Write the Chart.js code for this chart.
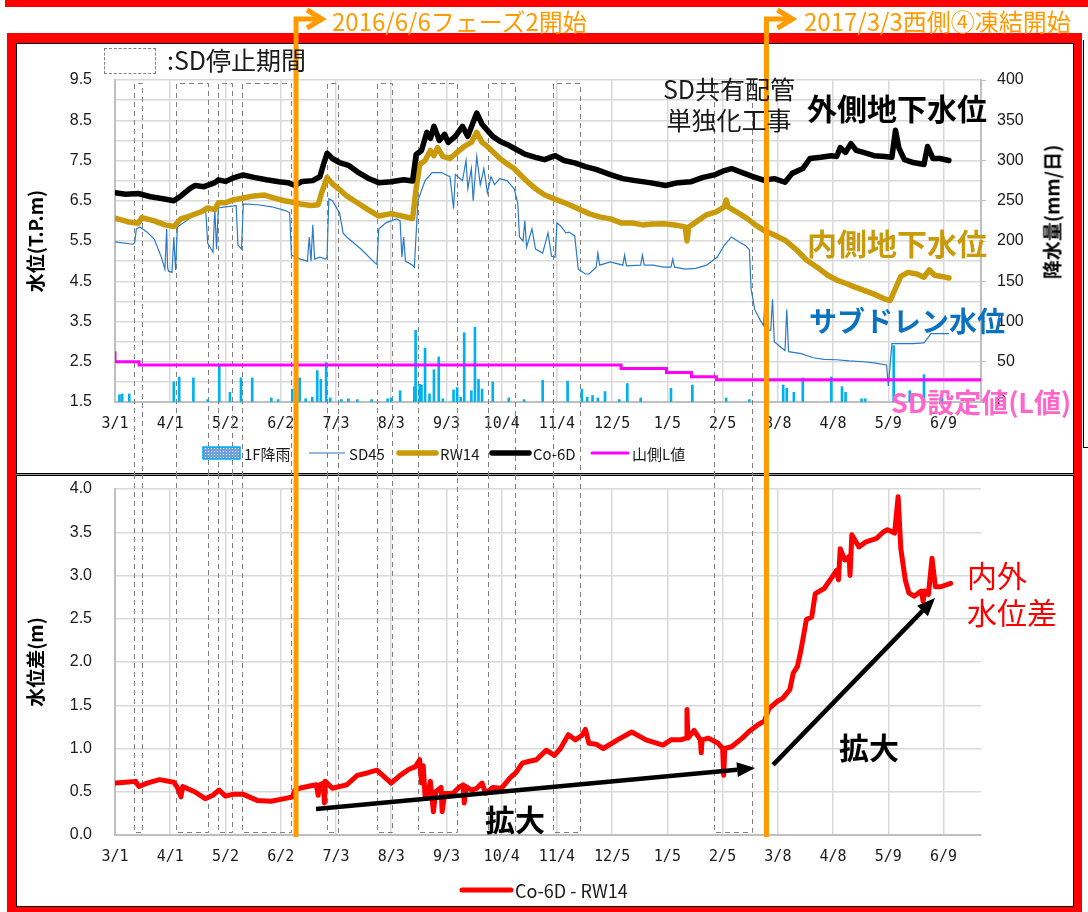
<!DOCTYPE html>
<html lang="ja">
<head>
<meta charset="UTF-8">
<title>水位・水位差</title>
<script src="https://cdn.jsdelivr.net/npm/chart.js"></script>
<style>
  body { margin: 0; width: 1088px; height: 912px; position: relative; overflow: hidden; background: #fff;
         font-family: "Noto Sans CJK JP", sans-serif; }
  .abs { position: absolute; white-space: nowrap; line-height: 1; }
  #topBar { left: 5px; top: 0; width: 1083px; height: 7px; background: #ff0000; }
  #frame { left: 7px; top: 33px; width: 1075px; height: 883px; box-sizing: border-box;
           border: 9px solid #ff0000; border-top-width: 10px; border-right-width: 8px; }
  #panelTop { left: 16px; top: 43px; width: 1058px; height: 431px; box-sizing: border-box; border: 1px solid #000; border-bottom: none; }
  #panelSep { left: 16px; top: 473px; width: 1058px; height: 1px; background: #999; border-top: 1px solid #000; border-bottom: 1px solid #000; }
  #panelBot { left: 16px; top: 476px; width: 1058px; height: 431px; box-sizing: border-box; border: 1px solid #000; border-top: none; }
  #sideFrame { left: 1083px; top: 40px; width: 10px; height: 407px; border-left: 1px solid #000; border-bottom: 1px solid #000; }
  .wrap { position: absolute; left: 0; top: 0; width: 1088px; height: 912px; }
  #topWrap { z-index: 1; }
  #botWrap { z-index: 2; }
  .note { z-index: 3; }
</style>
</head>
<body>
<div id="topBar" class="abs"></div>
<div id="frame" class="abs"></div>
<div id="panelTop" class="abs"></div>
<div id="panelSep" class="abs"></div>
<div id="panelBot" class="abs"></div>
<div id="sideFrame" class="abs"></div>

<div id="topWrap" class="wrap"><canvas id="topChart"></canvas></div>
<div id="botWrap" class="wrap"><canvas id="botChart"></canvas></div>

<!-- 注記 -->
<div class="abs note" style="left:332px; top:9px; font-size:24px; color:#ff9a00;">2016/6/6フェーズ2開始</div>
<div class="abs note" style="left:804px; top:9px; font-size:24px; color:#ff9a00;">2017/3/3西側④凍結開始</div>
<div class="abs note" style="left:104px; top:48px; width:50px; height:24px; border:1px dashed #808080;"></div>
<div class="abs note" style="left:167px; top:47px; font-size:25px; color:#1a1a1a;">:SD停止期間</div>
<div class="abs note" style="left:649px; top:73px; width:160px; font-size:25px; line-height:31px; text-align:center; color:#1a1a1a; white-space:normal;">SD共有配管<br>単独化工事</div>
<div class="abs note" style="left:807px; top:92px; font-size:30px; font-weight:bold; color:#000;">外側地下水位</div>
<div class="abs note" style="left:807px; top:227px; font-size:30px; font-weight:bold; color:#c99a0a;">内側地下水位</div>
<div class="abs note" style="left:809px; top:306px; font-size:28px; font-weight:bold; color:#0b72c0;">サブドレン水位</div>
<div class="abs note" style="left:891px; top:388px; font-size:27px; font-weight:bold; color:#ff66cc;">SD設定値(L値)</div>
<div class="abs note" style="left:1051px; top:212px; font-size:19px; font-weight:bold; color:#000; transform:translate(-50%,-50%) rotate(-90deg);">降水量(mm/日)</div>
<div class="abs note" style="left:485px; top:803px; font-size:30px; font-weight:bold; color:#000;">拡大</div>
<div class="abs note" style="left:839px; top:731px; font-size:30px; font-weight:bold; color:#000;">拡大</div>
<div class="abs note" style="left:967px; top:556px; font-size:30px; line-height:37px; color:#ff0000; white-space:normal;">内外<br>水位差</div>

<script>
    // 2016/3/1 からの経過日数で x を表す
    const dayMax = 486;
    const tickStep = 31;

    // 1F降雨 (mm/日)
    const rain = [[2.5,9],[4,10],[8,10],[33,25],[36,31],[44,30],[52,3],[58.5,45],[64.5,12],[70.7,30],[77,30],
        [87.7,5],[91.5,3],[99.5,16],[103.6,30],[107,4],[110.7,6],[113.5,39],[115.5,28],[118.5,49],[120.8,5],
        [127,3],[131,4],[136,3],[144,3],[153,4],[155,5],[160,14],[168,19],[168.7,89],[171,22],[172,21],[174,67],
        [176.5,10],[179,40],[181.7,56],[184,4],[190,15],[192,18],[194,6],[196,86],[200,14],[202,93],[204,28],
        [206,16],[212,25],[221,5],[229.6,3],[240,27],[254,26],[262,16],[265,6],[268,8],[271,5],[275,13],[283,3],
        [287.5,23],[295,5],[312,17],[324,21],[343,5],[356,3],[375,21],[377,17],[381,12],[386,30],[402,31],
        [408,19],[410,12],[419,4],[421,4],[437,70],[446,14],[454,34],[464,5]];

    // SD45 (T.P.m)
    const sd45 = [[0,5.48],[10,5.42],[11,5.45],[12,5.8],[14,5.85],[18,5.72],[22,5.55],[26,5.1],[28,4.8],[29,5.8],
        [29.5,4.85],[30,4.75],[32,4.72],[33,5.6],[34,4.78],[35,5.85],[40,6.0],[45,6.15],[50,6.25],[51,6.2],
        [52,5.45],[55,5.22],[56,6.3],[57,5.3],[58,6.32],[62,6.35],[68,6.38],[69,5.4],[71,5.3],[72,6.42],[80,6.4],
        [88,6.35],[96,6.25],[98,6.2],[99,5.15],[104,5.05],[108,5.0],[109,5.6],[110,5.0],[111,5.9],[112,5.05],
        [115,5.1],[118,5.05],[119,5.1],[120,6.55],[122,6.5],[126,6.2],[128,5.7],[130,5.6],[138,5.3],[146,4.95],
        [147,4.92],[148,5.8],[152,5.95],[158,6.05],[160,6.0],[161,5.1],[162,5.6],[163,5.0],[167,4.9],[168,4.85],
        [170,6.5],[174,7.0],[178,7.2],[183,7.2],[188,7.1],[190,6.3],[191,7.15],[195,7.0],[197,7.5],[198,6.8],
        [200,7.3],[201,6.5],[203,7.6],[205,6.9],[207,7.3],[209,6.7],[211,7.1],[213,6.9],[216,7.05],[220,7.0],
        [224,6.8],[226,6.45],[227,5.6],[229,5.5],[230,6.0],[231,5.35],[234,5.8],[236,5.3],[240,5.2],[243,5.7],
        [245,5.12],[247,5.1],[248,5.95],[250,5.88],[253,5.7],[255,5.72],[258,5.62],[260,4.8],[264,4.68],
        [266,4.68],[270,4.85],[271,5.2],[272,4.9],[278,4.98],[285,4.9],[286,5.15],[287,4.88],[295,4.9],
        [296,5.15],[297,4.9],[302,4.9],[308,4.85],[312,4.85],[313,5.05],[314,4.85],[320,4.8],[326,4.82],
        [332,4.9],[338,5.1],[342,5.4],[346,5.6],[350,5.48],[354,5.38],[356,5.28],[357,4.3],[359,3.8],[362,3.54],
        [364,3.4],[365,4.3],[366,3.3],[368,3.28],[369,4.05],[370,3.0],[374,2.85],[376,2.78],[377,3.8],[378,2.75],
        [385,2.7],[392,2.6],[398,2.56],[405,2.55],[412,2.52],[420,2.5],[426,2.47],[433,2.42],[434,1.9],
        [436,2.95],[440,2.95],[448,2.95],[454,2.97],[458,3.2],[464,3.2],[468,3.2]];

    // RW14 (内側地下水位)
    const rw14 = [[0,6.07],[7,5.98],[13,5.94],[15,6.08],[22,6.0],[28,5.9],[33,5.86],[37,6.05],[42,6.12],[48,6.22],
        [52,6.32],[56,6.28],[58,6.45],[62,6.45],[66,6.52],[72,6.57],[78,6.62],[84,6.64],[90,6.56],[95,6.5],
        [99,6.47],[104,6.42],[110,6.38],[114,6.4],[116,6.7],[119,7.08],[122,6.92],[126,6.78],[130,6.62],
        [136,6.45],[142,6.28],[148,6.12],[155,6.18],[161,6.12],[167,6.06],[169,6.8],[171,7.4],[174,7.5],
        [177,7.75],[179,7.62],[181,7.82],[184,7.6],[188,7.55],[192,7.7],[196,7.85],[200,7.95],[203,8.2],
        [206,7.95],[209,7.85],[212,7.72],[216,7.55],[220,7.42],[224,7.3],[228,7.12],[232,6.95],[236,6.8],
        [241,6.65],[248,6.52],[254,6.42],[260,6.3],[266,6.18],[272,6.1],[278,6.05],[284,5.95],[290,5.95],
        [296,5.9],[302,5.92],[308,5.93],[314,5.9],[320,5.85],[321,5.5],[322,5.85],[327,6.0],[332,6.15],
        [337,6.22],[342,6.35],[343,6.52],[344,6.35],[349,6.22],[355,6.05],[360,5.88],[364,5.77],[370,5.65],
        [376,5.52],[382,5.3],[388,5.03],[394,4.85],[400,4.65],[405,4.53],[410,4.45],[415,4.36],[420,4.28],
        [426,4.18],[432,4.06],[435,4.02],[438,4.32],[441,4.62],[445,4.72],[450,4.68],[454,4.6],[457,4.78],
        [460,4.65],[464,4.62],[468,4.58]];

    // Co-6D (外側地下水位)
    const co6d = [[0,6.70],[6,6.66],[13,6.68],[20,6.60],[27,6.55],[33,6.50],[37,6.62],[42,6.80],[45,6.88],
        [50,6.85],[56,6.95],[58,7.02],[62,6.98],[66,7.06],[72,7.14],[78,7.08],[85,7.02],[92,6.97],[97,6.95],
        [101,6.88],[105,6.98],[111,7.0],[115,7.1],[117,7.4],[119,7.68],[122,7.55],[126,7.45],[131,7.38],
        [136,7.22],[142,7.06],[148,6.95],[155,6.97],[162,7.02],[167,6.99],[169,7.65],[172,7.75],[175,8.2],
        [177,8.05],[179,8.35],[182,8.0],[185,8.15],[187,7.95],[191,8.1],[195,8.35],[198,8.1],[201,8.45],
        [203,8.68],[206,8.4],[209,8.25],[212,8.1],[216,7.98],[220,7.9],[225,7.78],[230,7.66],[236,7.58],
        [241,7.52],[247,7.62],[252,7.5],[258,7.44],[264,7.35],[270,7.28],[278,7.15],[285,7.05],[292,7.0],
        [300,6.95],[309,6.88],[316,6.95],[323,6.97],[330,7.08],[337,7.15],[342,7.25],[346,7.3],[352,7.2],
        [358,7.1],[364,7.01],[370,7.05],[376,6.96],[380,7.18],[386,7.3],[390,7.55],[396,7.58],[402,7.62],
        [405,7.6],[407,7.82],[410,7.7],[413,7.92],[416,7.75],[420,7.7],[426,7.62],[432,7.6],[436,7.58],
        [438,8.25],[440,7.8],[443,7.52],[448,7.45],[454,7.4],[456,7.85],[459,7.55],[463,7.55],[468,7.5]];

    // 山側L値 (段階的に変更)
    const lValue = [[0,2.76],[13.5,2.5],[284,2.42],[309.5,2.33],[323.5,2.23],[337.5,2.13],[352.5,2.05],[486,2.05]];

    // Co-6D - RW14 (内外水位差)
    const diff = [[0,0.6],[6,0.61],[11.6,0.62],[13.5,0.56],[18,0.6],[25,0.64],[33,0.61],[35,0.55],[37,0.44],
        [38,0.56],[44.7,0.5],[50.6,0.42],[55,0.46],[58.4,0.52],[62,0.45],[66,0.47],[72,0.47],[79.8,0.4],
        [87.6,0.39],[95,0.42],[99.5,0.44],[101,0.52],[103.6,0.54],[110,0.57],[113,0.58],[114,0.46],[115,0.58],
        [117,0.6],[117.5,0.37],[118,0.62],[122,0.54],[130,0.58],[136,0.69],[142,0.72],[147,0.75],[155,0.6],
        [160,0.69],[165,0.76],[168.6,0.79],[171,0.87],[172,0.6],[173,0.8],[174,0.45],[175.5,0.48],[177,0.62],
        [178.7,0.27],[180,0.5],[183,0.55],[183.6,0.27],[185,0.48],[189.6,0.48],[193,0.55],[195.4,0.58],
        [196,0.37],[197,0.56],[200,0.52],[203,0.54],[206,0.6],[208,0.48],[212,0.55],[216.8,0.54],[221.7,0.66],
        [225,0.72],[228.6,0.83],[232,0.85],[236.5,0.87],[242,0.98],[246.6,0.92],[250,1.0],[254.4,1.16],
        [258.3,1.1],[262,1.15],[264,1.22],[266,1.06],[270,1.05],[274,1.0],[282,1.1],[290,1.19],[298,1.1],
        [307.5,1.04],[312,1.1],[317.5,1.1],[320.5,1.12],[321,1.45],[321.5,1.12],[325,1.21],[328.5,1.1],
        [329,0.95],[329.5,1.1],[333,1.12],[338.5,1.06],[341,1.0],[341.6,0.69],[342.2,1.0],[346,1.02],[352,1.12],
        [356,1.2],[360.5,1.27],[364.5,1.32],[367,1.46],[372,1.55],[374.7,1.58],[378.7,1.68],[380.6,1.87],
        [383,1.95],[385,2.14],[388,2.49],[391,2.52],[393,2.79],[398,2.85],[402,2.97],[405,3.06],[406,2.95],
        [407,3.31],[409.5,3.18],[412,3.22],[412.5,3.0],[413.5,3.47],[417.5,3.33],[421.5,3.39],[427.5,3.43],
        [431,3.5],[433.5,3.53],[437.5,3.49],[439.5,3.91],[441,3.31],[443.5,2.95],[445.5,2.8],[448.5,2.76],
        [452.5,2.82],[453.5,2.7],[454.5,2.82],[456.5,2.78],[458.5,3.2],[460.4,2.87],[463.4,2.87],[469,2.91]];

    // SD停止期間 [開始日, 終了日]
    const stopPeriods = [[10.6,15.4],[34,52],[58,65.8],[71.5,99],[119,125],[147,155.6],[170,191.7],
        [209.6,224.2],[246,261],[336,357.4]];

    // フェーズ2開始 / 西側④凍結開始 の縦線位置
    const eventDays = [101.6, 365.6];

    // 拡大の矢印 [x1, y1, x2, y2] (日, m)
    const arrowLines = [[112.8,0.30,359.2,0.775],[369.3,0.81,460.2,2.74]];

    const ORANGE = '#ff9a00';
    const GRID = '#d9d9d9';
    const AXIS = '#bfbfbf';
    const xy = arr => arr.map(p => ({x: p[0], y: p[1]}));

    function dayLabel(v) {
        const d = new Date(2016, 2, 1 + v);
        return (d.getMonth() + 1) + '/' + d.getDate();
    }

    Chart.defaults.font.family = '"Noto Sans CJK JP", sans-serif';
    Chart.defaults.color = '#1a1a1a';

    const xAxis = () => ({
        type: 'linear', min: 0, max: dayMax, offset: false,
        afterFit: s => { s.height = 40; },
        ticks: { stepSize: tickStep, includeBounds: false, autoSkip: false, maxRotation: 0, padding: 13,
                 callback: dayLabel, font: { family: 'DejaVu Sans Mono', size: 15 } },
        grid: { color: GRID, lineWidth: 1.5, drawTicks: false, offset: false },
        border: { color: AXIS, width: 2 }
    });

    // SD停止期間の点線枠
    const stopBoxes = {
        id: 'stopBoxes',
        beforeDatasetsDraw(chart, args, opts) {
            const {ctx, chartArea} = chart;
            const xs = chart.scales.x;
            ctx.save();
            ctx.strokeStyle = '#808080';
            ctx.lineWidth = 1;
            ctx.setLineDash([5, 4]);
            stopPeriods.forEach(([a, b]) => {
                const x1 = Math.round(xs.getPixelForValue(a)) + 0.5;
                const x2 = Math.round(xs.getPixelForValue(b)) + 0.5;
                ctx.beginPath();
                if (opts.part === 'top') {
                    const t = chartArea.top + 3.5;
                    ctx.moveTo(x1, 476); ctx.lineTo(x1, t); ctx.lineTo(x2, t); ctx.lineTo(x2, 476);
                } else {
                    const b2 = chartArea.bottom - 2.5;
                    ctx.moveTo(x1, 474); ctx.lineTo(x1, b2); ctx.lineTo(x2, b2); ctx.lineTo(x2, 474);
                }
                ctx.stroke();
            });
            ctx.restore();
        }
    };

    // 凡例 (横一列)
    const legendRow = {
        id: 'legendRow',
        afterDraw(chart, args, opts) {
            const {ctx} = chart;
            ctx.save();
            ctx.font = opts.fontSize + 'px "Noto Sans CJK JP"';
            ctx.textBaseline = 'middle';
            opts.items.forEach(it => {
                const ds = chart.data.datasets[it.index];
                const y = opts.y;
                if (ds.type === 'bar') {
                    const c = document.createElement('canvas');
                    c.width = 3; c.height = 3;
                    const g = c.getContext('2d');
                    g.fillStyle = '#6f9fdc'; g.fillRect(0, 0, 3, 3);
                    g.fillStyle = '#e4eefa'; g.fillRect(1, 1, 1, 1);
                    ctx.fillStyle = ctx.createPattern(c, 'repeat');
                    ctx.fillRect(it.x, y - 6, it.w, 12);
                    ctx.strokeStyle = ds.backgroundColor;
                    ctx.lineWidth = 1.5;
                    ctx.strokeRect(it.x, y - 6, it.w, 12);
                } else {
                    ctx.strokeStyle = ds.borderColor;
                    ctx.lineWidth = ds.borderWidth;
                    ctx.lineCap = ds.borderWidth > 2 ? 'round' : 'butt';
                    ctx.beginPath();
                    ctx.moveTo(it.x, y); ctx.lineTo(it.x + it.w, y);
                    ctx.stroke();
                }
                ctx.fillStyle = '#1a1a1a';
                ctx.fillText(ds.label, it.x + it.w + 4, y + 1);
            });
            ctx.restore();
        }
    };

    // フェーズ縦線と拡大矢印
    const eventMarks = {
        id: 'eventMarks',
        afterDatasetsDraw(chart) {
            const {ctx} = chart;
            const xs = chart.scales.x, ys = chart.scales.y;
            ctx.save();
            ctx.strokeStyle = '#000';
            ctx.fillStyle = '#000';
            ctx.lineWidth = 4.5;
            arrowLines.forEach(([a, b, c, d]) => {
                const x1 = xs.getPixelForValue(a), y1 = ys.getPixelForValue(b);
                const x2 = xs.getPixelForValue(c), y2 = ys.getPixelForValue(d);
                const ang = Math.atan2(y2 - y1, x2 - x1), head = 18, half = 7.5;
                const bx = x2 - head * Math.cos(ang), by = y2 - head * Math.sin(ang);
                ctx.beginPath(); ctx.moveTo(x1, y1); ctx.lineTo(bx, by); ctx.stroke();
                ctx.beginPath();
                ctx.moveTo(x2, y2);
                ctx.lineTo(bx + half * Math.sin(ang), by - half * Math.cos(ang));
                ctx.lineTo(bx - half * Math.sin(ang), by + half * Math.cos(ang));
                ctx.closePath(); ctx.fill();
            });
            ctx.restore();
        },
        afterDraw(chart) {
            const {ctx, chartArea} = chart;
            const xs = chart.scales.x;
            ctx.save();
            ctx.strokeStyle = ORANGE;
            ctx.lineWidth = 5;
            eventDays.forEach(d => {
                const x = xs.getPixelForValue(d);
                ctx.lineJoin = 'miter';
                ctx.beginPath();
                ctx.moveTo(x, chartArea.bottom + 2);
                ctx.lineTo(x, 19);
                ctx.lineTo(x + 24, 19);
                ctx.stroke();
                ctx.beginPath();
                ctx.moveTo(x + 11, 10); ctx.lineTo(x + 26, 19); ctx.lineTo(x + 11, 28);
                ctx.stroke();
            });
            ctx.restore();
        }
    };

    new Chart(document.getElementById('topChart'), {
        type: 'line',
        data: {
            datasets: [
                { type: 'bar', label: '1F降雨', data: xy(rain), yAxisID: 'yRain', backgroundColor: '#00b0f0',
                  barThickness: 2, grouped: false, order: 5 },
                { type: 'line', label: 'SD45', data: xy(sd45), yAxisID: 'y', borderColor: '#2a7ac8',
                  borderWidth: 1.2, pointRadius: 0, order: 4 },
                { type: 'line', label: 'RW14', data: xy(rw14), yAxisID: 'y', borderColor: '#c99a0a',
                  borderWidth: 5.5, pointRadius: 0, borderJoinStyle: 'round', borderCapStyle: 'round', order: 2 },
                { type: 'line', label: 'Co-6D', data: xy(co6d), yAxisID: 'y', borderColor: '#000000',
                  borderWidth: 5.5, pointRadius: 0, borderJoinStyle: 'round', borderCapStyle: 'round', order: 1 },
                { type: 'line', label: '山側L値', data: xy(lValue), yAxisID: 'y', borderColor: '#ff00ff',
                  borderWidth: 3, pointRadius: 0, stepped: 'after', order: 3 }
            ]
        },
        options: {
            responsive: true,
            maintainAspectRatio: false,
            animation: false,
            events: [],
            layout: { padding: { top: 80, bottom: 470, left: 0, right: 0 } },
            plugins: {
                legend: { display: false },
                tooltip: { enabled: false },
                stopBoxes: { part: 'top' },
                legendRow: { y: 453, fontSize: 15, items: [
                    { index: 0, x: 203, w: 37 }, { index: 1, x: 309, w: 36 }, { index: 2, x: 399, w: 37 },
                    { index: 3, x: 492, w: 37 }, { index: 4, x: 592, w: 36 }] }
            },
            scales: {
                x: xAxis(),
                y: {
                    position: 'left', min: 1.5, max: 9.5,
                    afterFit: s => { s.width = 115; },
                    ticks: { stepSize: 0.5, autoSkip: false, padding: 23, font: { family: 'Liberation Sans', size: 16 },
                             callback: v => (Math.abs(((v - 1.5) % 1)) < 1e-6 ? v.toFixed(1) : '') },
                    grid: { color: GRID, lineWidth: 1.5, drawTicks: false },
                    border: { color: AXIS, width: 2 },
                    title: { display: true, text: '水位(T.P.m)', color: '#000',
                             font: { size: 19, weight: 'bold' }, padding: { top: 24, bottom: 0 } }
                },
                yRain: {
                    position: 'right', min: 0, max: 400,
                    afterFit: s => { s.width = 107; },
                    ticks: { stepSize: 50, padding: 11, font: { family: 'Liberation Sans', size: 16 } },
                    grid: { drawOnChartArea: false, drawTicks: true, tickLength: 5, color: AXIS },
                    border: { color: AXIS, width: 2 }
                }
            }
        },
        plugins: [stopBoxes, legendRow]
    });

    new Chart(document.getElementById('botChart'), {
        type: 'line',
        data: {
            datasets: [
                { label: 'Co-6D - RW14', data: xy(diff), borderColor: '#ff0000', borderWidth: 5,
                  pointRadius: 0, borderJoinStyle: 'round', borderCapStyle: 'round' }
            ]
        },
        options: {
            responsive: true,
            maintainAspectRatio: false,
            animation: false,
            events: [],
            layout: { padding: { top: 489, bottom: 37, left: 0, right: 107 } },
            plugins: {
                legend: { display: false },
                tooltip: { enabled: false },
                stopBoxes: { part: 'bottom' },
                legendRow: { y: 890, fontSize: 18, items: [{ index: 0, x: 462, w: 49 }] }
            },
            scales: {
                x: xAxis(),
                y: {
                    position: 'left', min: 0, max: 4,
                    afterFit: s => { s.width = 115; },
                    ticks: { stepSize: 0.5, autoSkip: false, padding: 23, font: { family: 'Liberation Sans', size: 16 },
                             callback: v => v.toFixed(1) },
                    grid: { color: GRID, lineWidth: 1.5, drawTicks: false },
                    border: { color: AXIS, width: 2 },
                    title: { display: true, text: '水位差(m)', color: '#000',
                             font: { size: 19, weight: 'bold' }, padding: { top: 24, bottom: 0 } }
                }
            }
        },
        plugins: [stopBoxes, legendRow, eventMarks]
    });
</script>
</body>
</html>
